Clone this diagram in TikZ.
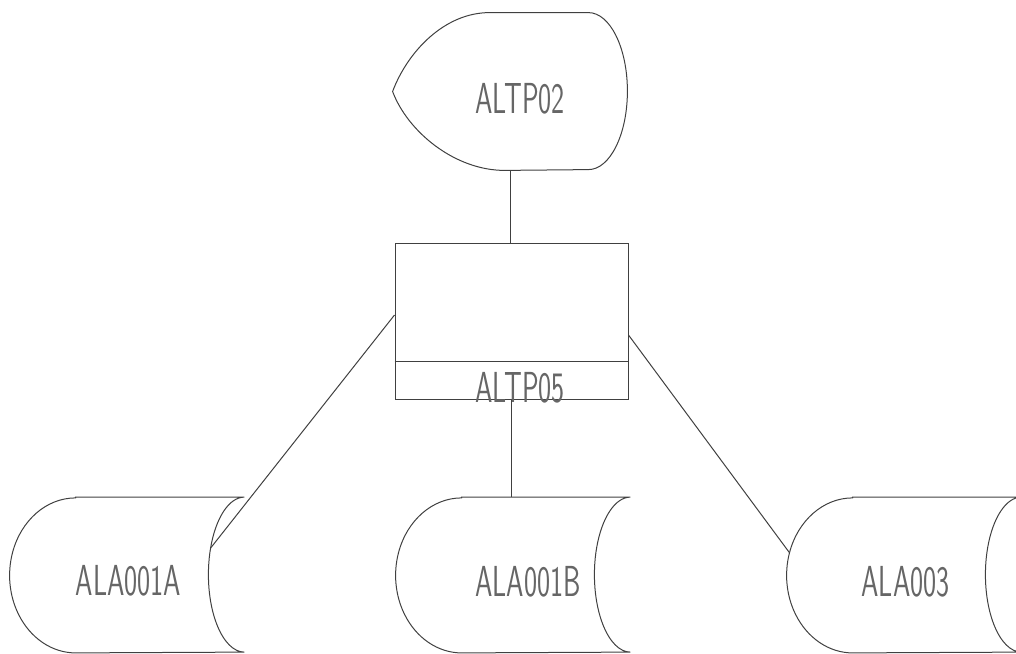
\documentclass[tikz,border=0pt]{standalone}
\usepackage{graphicx}
\usetikzlibrary{positioning}

\newcommand{\plotter}[1]{\scalebox{0.64}[1]{#1}}

\begin{document}
\begin{tikzpicture}
    [x=0.5pt, y=-0.5pt,
     ln/.style={draw=black!75, line width=0.5pt},
     shp/.style={rectangle, draw=none, inner sep=0pt, minimum width=117pt, minimum height=77.5pt},
     proc/.style={rectangle, draw=black!75, line width=0.5pt, inner sep=0pt, minimum width=116.5pt, minimum height=78pt},
     lbl/.style={font=\sffamily\fontsize{21.7}{22}\selectfont, text=black!60, inner sep=0pt}]

    \useasboundingbox (0,0) rectangle (1016,653);
    \clip (0,0) rectangle (1016,653);

    \node [shp, minimum height=78.5pt, label={[lbl, xshift=5pt, yshift=-3.75pt]center:\plotter{ALTP02}}] (dsp) at (510,91.5) {};
    \node [proc, label={[lbl, xshift=4.25pt, yshift=-33.5pt]center:\plotter{ALTP05}}] (p05) at (511.5,321) {};

    \node [shp, label={[lbl, xshift=0.75pt, yshift=-2.75pt]center:\plotter{ALA001A}}] (d1a) at (127,575) {};
    \node [shp, label={[lbl, xshift=7.5pt, yshift=-3.5pt]center:\plotter{ALA001B}}] (d1b) at (513,575) {};
    \node [shp, label={[lbl, xshift=0.75pt, yshift=-3.5pt]center:\plotter{ALA003}}] (d3) at (904,575) {};

    % display
    \draw [ln] (dsp.west) .. controls +(7.5pt,20pt) and +(-22.5pt,0pt) .. ([xshift=48.5pt]dsp.north west)
        -- ([xshift=-19.5pt]dsp.north east)
        arc [start angle=90, end angle=-90, x radius=19.5pt, y radius=39.25pt]
        -- ([xshift=56pt]dsp.south west)
        .. controls +(-25pt,0pt) and +(7.5pt,-20pt) .. (dsp.west);

    % strip of the process box
    \draw [ln] ([yshift=19pt]p05.south west) -- ([yshift=19pt]p05.south east);

    % stored data
    \foreach \d in {d1a, d1b, d3}
      \draw [ln] ([xshift=33pt]\d.north west) -- (\d.north east)
        arc [start angle=90, end angle=160, x radius=18pt, y radius=38.75pt] coordinate (\d-r)
        arc [start angle=160, end angle=270, x radius=18pt, y radius=38.75pt]
        -- ([xshift=33pt]\d.south west)
        arc [start angle=270, end angle=163, x radius=33pt, y radius=38.75pt] coordinate (\d-l)
        arc [start angle=163, end angle=90, x radius=33pt, y radius=38.75pt] -- cycle;

    \draw [ln] (dsp.south) -- (dsp.south |- p05.north);
    \draw [ln] ([yshift=3pt]p05.west) -- (d1a-r);
    \draw [ln] (p05.south) -- (p05.south |- d1b.north);
    \draw [ln] ([yshift=-7pt]p05.east) -- (d3-l);
\end{tikzpicture}
\end{document}
